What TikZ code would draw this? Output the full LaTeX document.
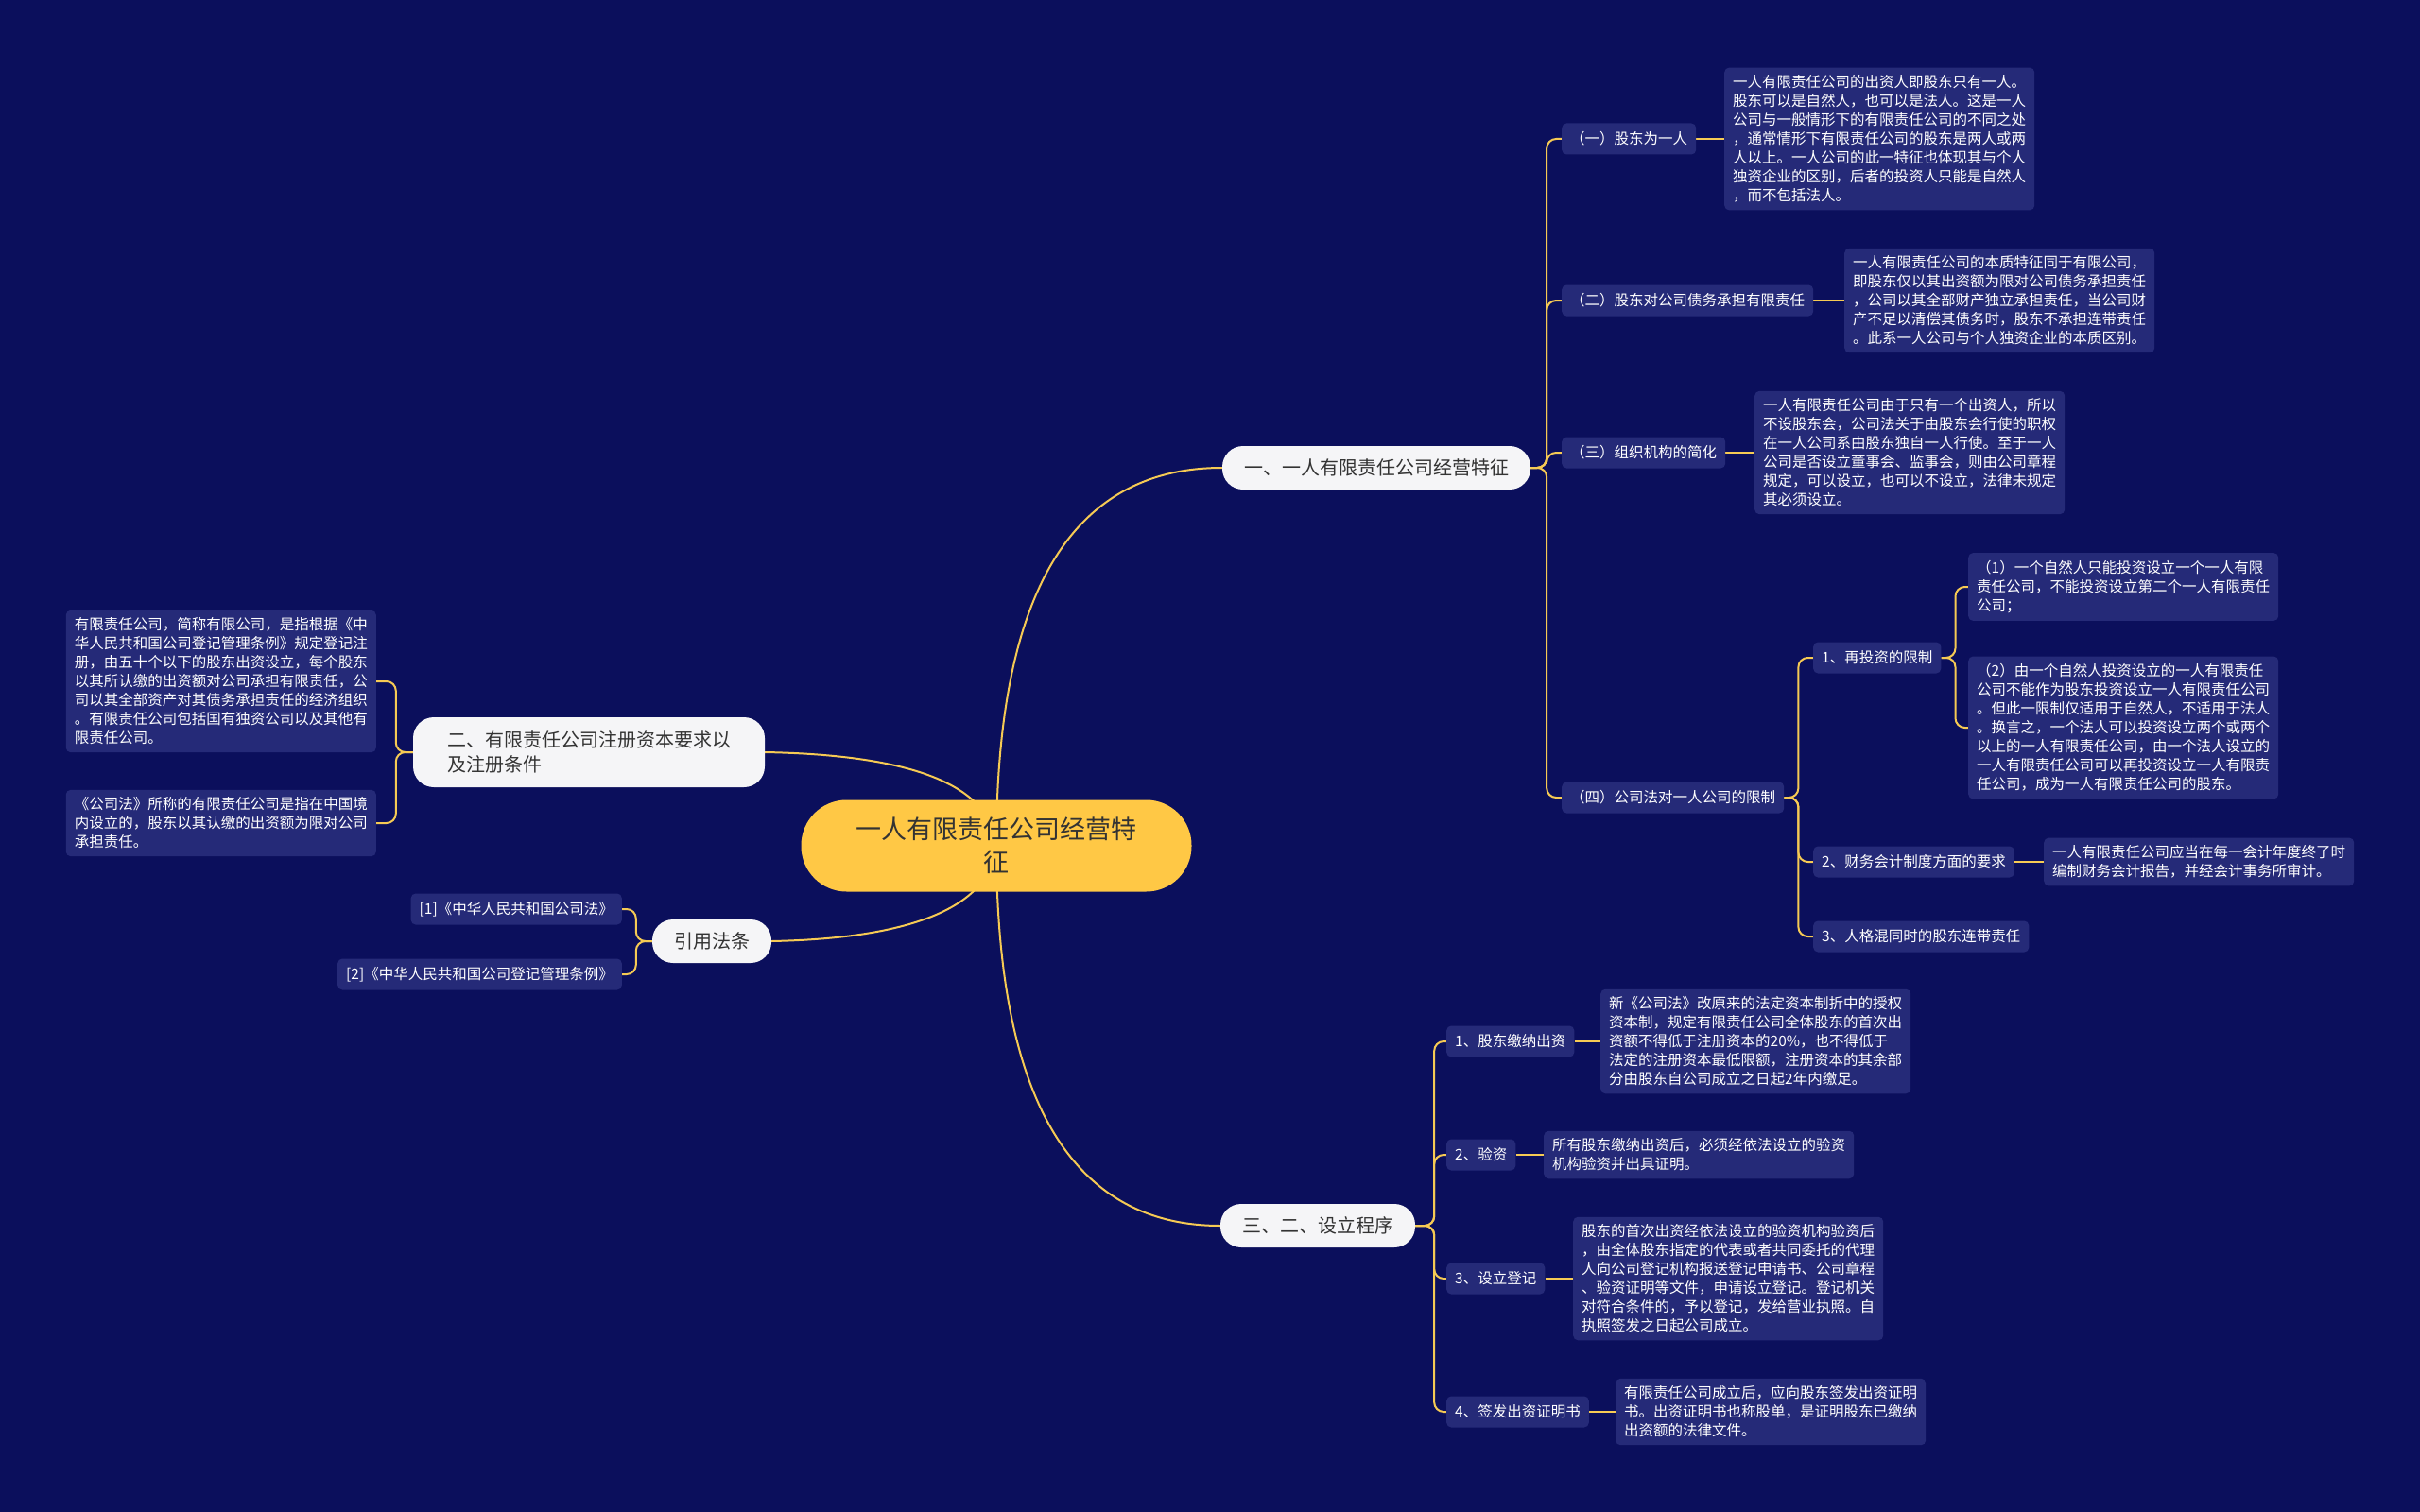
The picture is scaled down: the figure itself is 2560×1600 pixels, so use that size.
\documentclass[tikz,border=0pt]{standalone}
\usepackage{fontspec}
\newfontfamily\cjkfont{Noto Sans CJK SC}
\usetikzlibrary{backgrounds}
\definecolor{bgblue}{RGB}{11,15,92}
\definecolor{boxblue}{RGB}{37,42,120}
\definecolor{linkyellow}{RGB}{246,202,84}
\definecolor{rootyellow}{RGB}{255,200,69}
\definecolor{pillgray}{RGB}{245,245,247}
\definecolor{darktext}{RGB}{51,51,51}
\begin{document}
\begin{tikzpicture}[x=1pt, y=-1pt,
  every node/.style={font=\cjkfont},
  root/.style={fill=rootyellow, text=darktext, rounded corners=48pt, minimum width=413pt, minimum height=97pt, align=center, font=\cjkfont\fontsize{27}{35}\selectfont},
  branch/.style={fill=pillgray, text=darktext, rounded corners=22pt, inner xsep=23pt, inner ysep=12pt, minimum height=46pt, align=left, font=\cjkfont\fontsize{20}{26}\selectfont},
  topic/.style={fill=boxblue, text=white, rounded corners=5pt, inner xsep=9pt, minimum height=33pt, font=\cjkfont\fontsize{15.5}{20}\selectfont},
  note/.style={fill=boxblue, text=white, rounded corners=5pt, inner xsep=9pt, inner ysep=8pt, text width=310pt, align=left, font=\cjkfont\fontsize{15.5}{20}\selectfont},
  link/.style={draw=linkyellow, line width=2pt, rounded corners=10pt}]
  \useasboundingbox (0,0) rectangle (2560,1600);

  \node [root] (Root_node) at (1054, 895) {一人有限责任公司经营特\\征};

  \node [branch] (Branch_one) at (1456, 495) {一、一人有限责任公司经营特征};
  \node [branch, inner xsep=36pt, minimum height=74pt] (Branch_two) at (623, 796) {二、有限责任公司注册资本要求以\\及注册条件};
  \node [branch] (Branch_law) at (753, 996) {引用法条};
  \node [branch] (Branch_three) at (1394, 1297) {三、二、设立程序};

  \node [topic, anchor=west] (One_a) at (1652, 147) {（一）股东为一人};
  \node [note, anchor=west] (One_a_text) at (1824, 147) {一人有限责任公司的出资人即股东只有一人。\\股东可以是自然人，也可以是法人。这是一人\\公司与一般情形下的有限责任公司的不同之处\\，通常情形下有限责任公司的股东是两人或两\\人以上。一人公司的此一特征也体现其与个人\\独资企业的区别，后者的投资人只能是自然人\\，而不包括法人。};
  \node [topic, anchor=west] (One_b) at (1652, 318) {（二）股东对公司债务承担有限责任};
  \node [note, anchor=west] (One_b_text) at (1951, 318) {一人有限责任公司的本质特征同于有限公司，\\即股东仅以其出资额为限对公司债务承担责任\\，公司以其全部财产独立承担责任，当公司财\\产不足以清偿其债务时，股东不承担连带责任\\。此系一人公司与个人独资企业的本质区别。};
  \node [topic, anchor=west] (One_c) at (1652, 479) {（三）组织机构的简化};
  \node [note, anchor=west] (One_c_text) at (1856, 479) {一人有限责任公司由于只有一个出资人，所以\\不设股东会，公司法关于由股东会行使的职权\\在一人公司系由股东独自一人行使。至于一人\\公司是否设立董事会、监事会，则由公司章程\\规定，可以设立，也可以不设立，法律未规定\\其必须设立。};
  \node [topic, anchor=west] (One_d) at (1652, 844) {（四）公司法对一人公司的限制};

  \node [topic, anchor=west] (Limit_a) at (1918, 696) {1、再投资的限制};
  \node [note, anchor=west] (Limit_a_one) at (2082, 621) {（1）一个自然人只能投资设立一个一人有限\\责任公司，不能投资设立第二个一人有限责任\\公司；};
  \node [note, anchor=west] (Limit_a_two) at (2082, 770) {（2）由一个自然人投资设立的一人有限责任\\公司不能作为股东投资设立一人有限责任公司\\。但此一限制仅适用于自然人，不适用于法人\\。换言之，一个法人可以投资设立两个或两个\\以上的一人有限责任公司，由一个法人设立的\\一人有限责任公司可以再投资设立一人有限责\\任公司，成为一人有限责任公司的股东。};
  \node [topic, anchor=west] (Limit_b) at (1918, 912) {2、财务会计制度方面的要求};
  \node [note, anchor=west] (Limit_b_text) at (2162, 912) {一人有限责任公司应当在每一会计年度终了时\\编制财务会计报告，并经会计事务所审计。};
  \node [topic, anchor=west] (Limit_c) at (1918, 991) {3、人格混同时的股东连带责任};

  \node [note, anchor=east] (Two_a) at (398, 721) {有限责任公司，简称有限公司，是指根据《中\\华人民共和国公司登记管理条例》规定登记注\\册，由五十个以下的股东出资设立，每个股东\\以其所认缴的出资额对公司承担有限责任，公\\司以其全部资产对其债务承担责任的经济组织\\。有限责任公司包括国有独资公司以及其他有\\限责任公司。};
  \node [note, anchor=east] (Two_b) at (398, 871) {《公司法》所称的有限责任公司是指在中国境\\内设立的，股东以其认缴的出资额为限对公司\\承担责任。};

  \node [topic, anchor=east] (Law_a) at (658, 962) {[1]《中华人民共和国公司法》};
  \node [topic, anchor=east] (Law_b) at (658, 1031) {[2]《中华人民共和国公司登记管理条例》};

  \node [topic, anchor=west] (Step_a) at (1530, 1102) {1、股东缴纳出资};
  \node [note, anchor=west] (Step_a_text) at (1693, 1102) {新《公司法》改原来的法定资本制折中的授权\\资本制，规定有限责任公司全体股东的首次出\\资额不得低于注册资本的20\%，也不得低于\\法定的注册资本最低限额，注册资本的其余部\\分由股东自公司成立之日起2年内缴足。};
  \node [topic, anchor=west] (Step_b) at (1530, 1222) {2、验资};
  \node [note, anchor=west] (Step_b_text) at (1633, 1222) {所有股东缴纳出资后，必须经依法设立的验资\\机构验资并出具证明。};
  \node [topic, anchor=west] (Step_c) at (1530, 1353) {3、设立登记};
  \node [note, anchor=west] (Step_c_text) at (1664, 1353) {股东的首次出资经依法设立的验资机构验资后\\，由全体股东指定的代表或者共同委托的代理\\人向公司登记机构报送登记申请书、公司章程\\、验资证明等文件，申请设立登记。登记机关\\对符合条件的，予以登记，发给营业执照。自\\执照签发之日起公司成立。};
  \node [topic, anchor=west] (Step_d) at (1530, 1494) {4、签发出资证明书};
  \node [note, anchor=west] (Step_d_text) at (1709, 1494) {有限责任公司成立后，应向股东签发出资证明\\书。出资证明书也称股单，是证明股东已缴纳\\出资额的法律文件。};

  \begin{pgfonlayer}{background}
    \fill [bgblue] (0, 0) rectangle (2560, 1600);

    \draw [link] (Root_node.center) .. controls (1054, 628) and (1133, 495) .. (Branch_one.west);
    \draw [link] (Root_node.center) .. controls (1054, 1162) and (1133, 1297) .. (Branch_three.west);
    \draw [link] (Root_node.center) .. controls (1048, 832) and (969, 799) .. (Branch_two.east);
    \draw [link] (Root_node.center) .. controls (1048, 958) and (969, 993) .. (Branch_law.east);

    \draw [link] (Branch_one.east) -- ++(17, 0) |- (One_a.west);
    \draw [link] (Branch_one.east) -- ++(17, 0) |- (One_b.west);
    \draw [link] (Branch_one.east) -- ++(17, 0) |- (One_c.west);
    \draw [link] (Branch_one.east) -- ++(17, 0) |- (One_d.west);
    \draw [link] (One_a.east) -- (One_a_text.west);
    \draw [link] (One_b.east) -- (One_b_text.west);
    \draw [link] (One_c.east) -- (One_c_text.west);

    \draw [link] (One_d.east) -- ++(15, 0) |- (Limit_a.west);
    \draw [link] (One_d.east) -- ++(15, 0) |- (Limit_b.west);
    \draw [link] (One_d.east) -- ++(15, 0) |- (Limit_c.west);
    \draw [link] (Limit_a.east) -- ++(15, 0) |- (Limit_a_one.west);
    \draw [link] (Limit_a.east) -- ++(15, 0) |- (Limit_a_two.west);
    \draw [link] (Limit_b.east) -- (Limit_b_text.west);

    \draw [link] (Branch_two.west) -- ++(-18, 0) |- (Two_a.east);
    \draw [link] (Branch_two.west) -- ++(-18, 0) |- (Two_b.east);

    \draw [link] (Branch_law.west) -- ++(-17, 0) |- (Law_a.east);
    \draw [link] (Branch_law.west) -- ++(-17, 0) |- (Law_b.east);

    \draw [link] (Branch_three.east) -- ++(20, 0) |- (Step_a.west);
    \draw [link] (Branch_three.east) -- ++(20, 0) |- (Step_b.west);
    \draw [link] (Branch_three.east) -- ++(20, 0) |- (Step_c.west);
    \draw [link] (Branch_three.east) -- ++(20, 0) |- (Step_d.west);
    \draw [link] (Step_a.east) -- (Step_a_text.west);
    \draw [link] (Step_b.east) -- (Step_b_text.west);
    \draw [link] (Step_c.east) -- (Step_c_text.west);
    \draw [link] (Step_d.east) -- (Step_d_text.west);
  \end{pgfonlayer}
\end{tikzpicture}
\end{document}
